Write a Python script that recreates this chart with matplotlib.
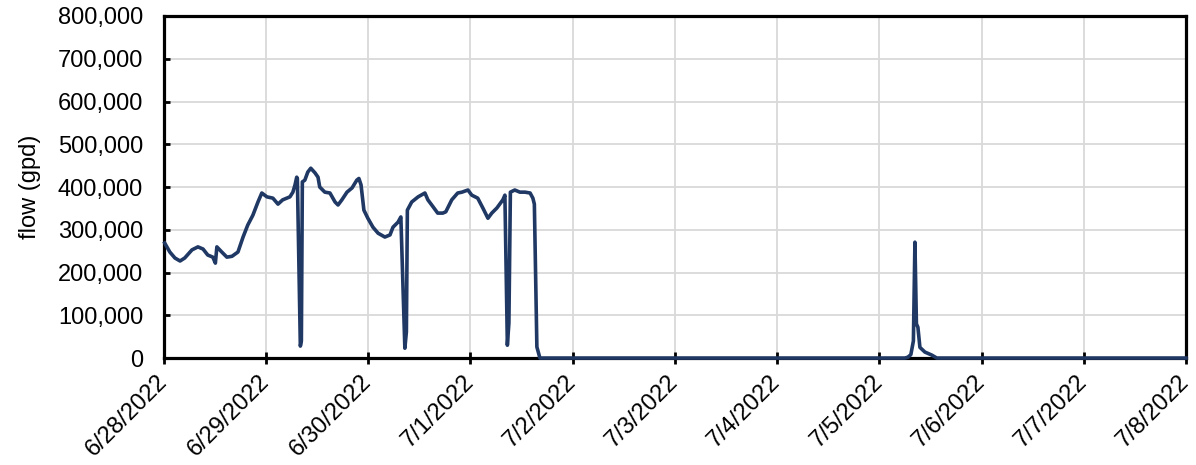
import pandas as pd
import matplotlib
matplotlib.use('Agg')
import matplotlib.pyplot as plt
import matplotlib.dates as mdates
from matplotlib.ticker import FuncFormatter, MultipleLocator

# hours since 6/28/2022 00:00 and flow (thousand gpd)
hours = [0.2, 1.4, 2.6, 3.8, 4.9, 6.6, 8.0, 9.2, 10.3, 11.5, 12.1, 12.45,
         13.6, 14.8, 16.0, 17.4, 18.6, 19.7, 20.9, 22.1, 23.0, 24.2, 25.6,
         26.8, 27.9, 29.6, 30.3, 30.8, 31.2, 31.35, 32.05, 32.29, 32.52,
         33.1, 33.8, 34.5, 35.5, 36.2, 36.6, 37.8, 39.0, 40.2, 40.9, 41.8,
         43.0, 44.2, 45.3, 45.8, 46.3, 46.97, 47.9, 49.1, 50.3, 51.9, 53.1,
         53.8, 55.0, 55.65, 56.59, 56.95, 57.18, 58.2, 59.7, 61.3, 62.0,
         62.9, 64.3, 65.5, 66.2, 67.6, 69.0, 70.0, 71.4, 72.3, 73.7, 74.9,
         76.1, 77.0, 78.2, 79.6, 80.08, 80.66, 81.02, 81.37, 82.4, 83.6,
         84.8, 86.0, 86.65, 87.0, 87.59, 88.3, 174.0, 174.7, 175.4, 176.0,
         176.36, 176.71, 177.06, 177.53, 178.7, 180.3, 181.5, 240.0]
flow_k = [269, 248, 234, 227, 234, 253, 260, 255, 241, 236, 222, 260,
          248, 236, 238, 248, 283, 311, 334, 365, 386, 377, 374,
          360, 370, 377, 388, 405, 423, 420, 28, 40, 412,
          416, 435, 444, 433, 423, 400, 388, 386, 365, 358, 370,
          388, 398, 416, 420, 405, 346, 327, 306, 292, 283, 288,
          306, 318, 330, 23, 61, 346, 365, 377, 386, 370,
          358, 339, 339, 342, 370, 386, 388, 393, 381, 374, 351,
          327, 339, 351, 370, 381, 30, 82, 388, 393, 388,
          388, 386, 374, 360, 26, 0, 0, 2, 8, 40,
          271, 80, 72, 25, 14, 7, 0, 0]

start = pd.Timestamp('2022-06-28')
end = pd.Timestamp('2022-07-08')
times = start + pd.to_timedelta(hours, unit='h')
flow = [v * 1000 for v in flow_k]

plt.rcParams['font.family'] = ['Liberation Sans', 'DejaVu Sans']

fig = plt.figure(figsize=(11.96, 4.65), dpi=100)
ax = fig.add_axes([0.137, 0.230, 0.8546, 0.7356])

ax.plot(times, flow, color='#1f3864', linewidth=2.6, zorder=5, clip_on=False)

ax.set_xlim(start, end)
ax.set_ylim(0, 800000)
ax.xaxis.set_major_locator(mdates.DayLocator())
ax.xaxis.set_major_formatter(FuncFormatter(
    lambda x, pos: '{d.month}/{d.day}/{d.year}'.format(d=mdates.num2date(x))))
ax.yaxis.set_major_locator(MultipleLocator(100000))
ax.yaxis.set_major_formatter(FuncFormatter(lambda v, pos: f'{v:,.0f}'))

ax.grid(True, color='#d9d9d9', linewidth=1.3)
ax.set_axisbelow(True)
for s in ax.spines.values():
    s.set_linewidth(2.3)
    s.set_color('black')

ax.tick_params(axis='y', direction='in', length=4, width=2, labelsize=17, pad=15)
ax.tick_params(axis='x', direction='inout', length=9, width=2, labelsize=17, pad=10)
for lbl in ax.get_xticklabels():
    lbl.set_rotation(45)
    lbl.set_ha('right')
    lbl.set_va('center')
    lbl.set_rotation_mode('anchor')

ax.set_ylabel('flow (gpd)', fontsize=17, labelpad=12)

fig.savefig('out.png', dpi=100)
